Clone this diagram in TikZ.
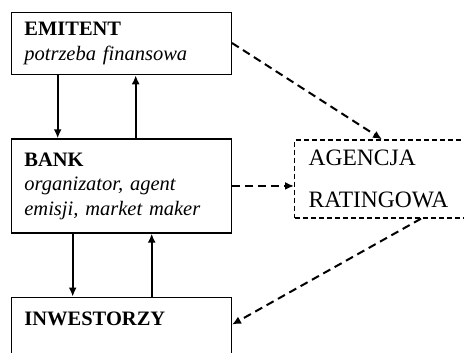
\documentclass[tikz,border=0pt]{standalone}
\usepackage{fontspec}
\setmainfont{Liberation Serif}
\usetikzlibrary{arrows.meta, positioning}
\begin{document}
\begin{tikzpicture}
		\tikzset{
			party/.style={rectangle, draw=black, line width=1.3pt, anchor=north west, minimum width=220pt, text width=194pt, inner xsep=13pt, align=left, font=\fontsize{20.5}{24.5}\selectfont},
			ratingbox/.style={rectangle, draw=black, line width=1.4pt, dash pattern=on 5pt off 3pt, minimum width=400pt, minimum height=78pt, text width=372pt, inner xsep=14pt, align=left, font=\fontsize{23.5}{42}\selectfont},
			flow/.style={-{Latex[length=9pt, width=8pt]}, line width=2pt},
			rating/.style={-{Latex[length=9pt, width=8pt]}, line width=2pt, dash pattern=on 8pt off 5pt}
		}
		\useasboundingbox (0,0) rectangle (464pt,-353pt);
		\node[party, minimum height=62pt] (emitent) at (10.7pt,-12pt) {\textbf{EMITENT}\\\textit{potrzeba finansowa}};
		\node[party, minimum height=94pt, below=63pt of emitent.south west, anchor=north west] (bank) {\textbf{BANK}\\\textit{organizator, agent emisji, market maker}};
		\node[party, inner ysep=14.4pt, text depth=60pt, below=63pt of bank.south west, anchor=north west] (inwestorzy) {\textbf{INWESTORZY}};

		\node[ratingbox, right=62pt of bank.north east, anchor=north west, yshift=-1pt] (agencja) {AGENCJA\\RATINGOWA};

		\draw[flow] ([xshift=47pt]emitent.south west) -- ([xshift=47pt]bank.north west);
		\draw[flow] ([xshift=125pt]bank.north west) -- ([xshift=125pt]emitent.south west);
		\draw[flow] ([xshift=62pt]bank.south west) -- ([xshift=62pt]inwestorzy.north west);
		\draw[flow] ([xshift=141pt]inwestorzy.north west) -- ([xshift=141pt]bank.south west);

		\draw[rating] ([yshift=-31pt]emitent.north east) -- ([xshift=88pt]agencja.north west);
		\draw[rating] (bank.east) -- (bank.east -| agencja.west);
		\draw[rating] ([xshift=127pt]agencja.south west) -- ([yshift=-28pt]inwestorzy.north east);
	\end{tikzpicture}
\end{document}
